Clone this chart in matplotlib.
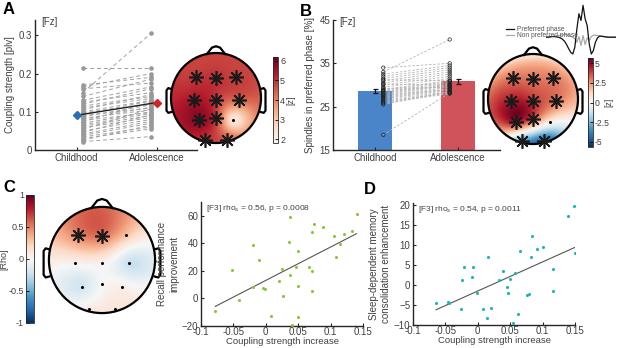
import numpy as np
import matplotlib
matplotlib.use('Agg')
import matplotlib.pyplot as plt
from matplotlib.colors import LinearSegmentedColormap
from matplotlib.patches import Circle

plt.rcParams['font.family'] = ['Liberation Sans', 'DejaVu Sans']
plt.rcParams['mathtext.fontset'] = 'custom'
plt.rcParams['mathtext.rm'] = 'Liberation Sans'
plt.rcParams['mathtext.it'] = 'Liberation Sans:italic'

W, H = 617, 348
TXT = '#404040'

# ---- panel A : coupling strength (Fz) ----
groups = ['Childhood', 'Adolescence']
cs_child = [0.215, 0.150, 0.170, 0.165, 0.160, 0.140, 0.130, 0.125, 0.120, 0.115,
            0.110, 0.105, 0.100, 0.097, 0.094, 0.090, 0.087, 0.083, 0.080, 0.077,
            0.074, 0.070, 0.066, 0.062, 0.058, 0.054, 0.050, 0.046, 0.042, 0.038,
            0.034, 0.030, 0.026, 0.022]
cs_adol = [0.215, 0.305, 0.190, 0.200, 0.175, 0.185, 0.165, 0.150, 0.160, 0.140,
           0.135, 0.145, 0.130, 0.120, 0.128, 0.110, 0.118, 0.105, 0.112, 0.098,
           0.125, 0.100, 0.095, 0.090, 0.085, 0.108, 0.080, 0.092, 0.075, 0.070,
           0.060, 0.055, 0.065, 0.035]

# ---- panel B : spindles in preferred phase (Fz) ----
pp_child = [34, 33, 32.5, 32, 31.5, 31, 30.5, 30, 29.5, 29, 28.8, 28.5, 28.2, 28,
            27.8, 27.5, 27.2, 27, 26.8, 26.5, 26.2, 26, 25.8, 25.5, 29.2, 30.2,
            31.2, 27.6, 28.6, 18.5]
pp_adol = [35, 40.5, 34.5, 34, 33.5, 33, 32.5, 32, 31.5, 31, 30.8, 30.5, 30.2, 30,
           29.8, 29.5, 29.2, 29, 28.8, 28.5, 28.3, 28.2, 28, 28.5, 29.5, 30, 31,
           29, 29.8, 28.2]

# spindle waveform inset
wave_pref = [0, 0, 0.01, 0.02, 0.02, 0.01, 0, -0.02, -0.06, -0.12, -0.22, -0.34,
             -0.45, -0.5, -0.3, 0.25, 0.7, 0.5, 0.95, 0.55, 0.35, -0.2, -0.5, -0.4,
             -0.15, -0.02, 0.03, 0.03, 0.02, 0.01, 0, 0, 0, 0, 0]
wave_nonpref = [0, 0, 0.01, 0.02, 0.03, 0.04, 0.05, 0.06, 0.07, 0.08, 0.08, 0.06,
                0.03, 0.0, -0.05, -0.15, 0.02, -0.25, 0.05, -0.22, -0.02, -0.1,
                0.02, 0.06, 0.06, 0.05, 0.04, 0.03, 0.02, 0.01, 0.01, 0, 0, 0, 0]

# ---- topographies (F3 Fz F4 C3 Cz C4 P3 Pz P4 O1 O2) ----
elec_x = [-0.45, 0.0, 0.45, -0.5, 0.0, 0.5, -0.38, 0.0, 0.38, -0.25, 0.25]
elec_y = [0.47, 0.45, 0.47, -0.05, -0.05, -0.05, -0.5, -0.45, -0.5, -0.93, -0.93]
topo_a = [4.9, 5.0, 4.8, 5.4, 4.9, 4.4, 5.8, 4.9, 2.3, 5.0, 4.5]
sig_a = [1, 1, 1, 1, 1, 1, 1, 1, 0, 1, 1]
topo_b = [3.0, 3.0, 2.8, 4.6, 4.0, 3.0, 4.9, 3.5, 0.5, -3.0, -4.6]
sig_b = [1, 1, 1, 1, 1, 1, 1, 1, 0, 1, 1]
topo_c = [0.5, 0.55, 0.3, 0.05, 0.05, -0.22, -0.18, 0.0, 0.05, 0.08, 0.12]
sig_c = [1, 1, 0, 0, 0, 0, 0, 0, 0, 0, 0]

# ---- panel C / D : correlations ----
c_x = [-0.078, -0.052, -0.042, -0.020, -0.019, -0.0105, -0.005, -0.0008, 0.008,
       0.021, 0.025, 0.0265, 0.036, 0.037, 0.037, 0.040, 0.046, 0.049, 0.049,
       0.049, 0.067, 0.072, 0.071, 0.072, 0.075, 0.088, 0.105, 0.12, 0.133,
       0.140, 0.115, 0.109]
c_y = [-8.9, 20.7, -1.3, 38.7, 8.6, 27.8, 7.4, 7.2, -12.5, 12.5, 21.2, 2.0, 40.9,
       59.3, 16.9, -19, 22.7, 34.5, 8.9, -13.2, 22.7, 20.0, 5.2, 48.1, 54.2, 52.2,
       45.5, 46.9, 49.1, 61.2, 39.6, 30.4]
d_x = [-0.0645, -0.0455, -0.044, -0.0213, -0.024, -0.026, -0.0079, -0.0085,
       -0.0008, 0.0085, 0.0147, 0.0157, 0.0209, 0.0332, 0.0394, 0.0446, 0.0461,
       0.0497, 0.0548, 0.0579, 0.0616, 0.0656, 0.0755, 0.0795, 0.0826, 0.0832,
       0.0909, 0.101, 0.1156, 0.116, 0.1387, 0.149, 0.15]
d_y = [-4.6, -4.2, -4.6, 4.4, 1.25, -6.0, 4.6, 1.9, -1.9, -6.0, -8.2, 7.1, -5.7,
       1.25, 3.6, -0.5, -2.1, 1.4, -9.6, 2.9, -7.3, 8.4, -2.5, -2.3, 6.9, 12.25,
       8.9, 9.4, 4.0, -1.6, 17.25, 19.8, 8.0]


def px_axes(fig, left, top, width, height):
    return fig.add_axes([left / W, 1 - (top + height) / H, width / W, height / H])


def style_axes(ax):
    for s in ['top', 'right']:
        ax.spines[s].set_visible(False)
    for s in ['left', 'bottom']:
        ax.spines[s].set_color('#262626')
        ax.spines[s].set_linewidth(1.0)
    ax.tick_params(direction='in', length=2.5, width=0.8, labelsize=7,
                   colors='#262626', labelcolor=TXT, pad=2)


def green(r):
    with np.errstate(divide='ignore', invalid='ignore'):
        g = r ** 2 * (np.log(r) - 1)
    return np.where(r > 0, g, 0.0)


def biharm(px, py, pv, qx, qy):
    G = green(np.hypot(px[:, None] - px[None, :], py[:, None] - py[None, :]))
    w = np.linalg.solve(G, pv)
    return green(np.hypot(qx[..., None] - px, qy[..., None] - py)) @ w


def draw_topo(ax, vals, sig, cmap, vmin, vmax, mix):
    ex = np.array(elec_x)
    ey = np.array(elec_y)
    v = np.array(vals, float)
    # ring of helper points just outside the scalp keeps the edges stable
    ang = np.linspace(0, 2 * np.pi, 28, endpoint=False)
    rx, ry = 1.08 * np.cos(ang), 1.08 * np.sin(ang)
    d = np.hypot(rx[:, None] - ex, ry[:, None] - ey)
    idw = (v / d ** 3).sum(1) / (1 / d ** 3).sum(1)
    span = v.max() - v.min()
    ext = np.clip(biharm(ex, ey, v, rx, ry), v.min() - 0.35 * span, v.max() + 0.35 * span)
    rv = mix * ext + (1 - mix) * idw
    g = np.linspace(-1, 1, 241)
    X, Y = np.meshgrid(g, g)
    Z = biharm(np.r_[ex, rx], np.r_[ey, ry], np.r_[v, rv], X, Y)
    Z = np.ma.masked_where(X ** 2 + Y ** 2 > 1.02, Z)
    im = ax.imshow(Z, extent=(-1, 1, -1, 1), origin='lower', cmap=cmap,
                   vmin=vmin, vmax=vmax, interpolation='bilinear')
    im.set_clip_path(Circle((0, 0), 1, transform=ax.transData))
    lw = 1.6
    ax.add_patch(Circle((0, 0), 1, fill=False, lw=lw, color='k'))
    ax.plot([-0.2, -0.09, 0, 0.09, 0.2], [0.98, 1.12, 1.15, 1.12, 0.98], color='k', lw=lw)
    for sgn in (-1, 1):
        ax.plot([sgn * 0.99, sgn * 1.06, sgn * 1.1, sgn * 1.1, sgn * 1.06, sgn * 0.99],
                [0.2, 0.22, 0.17, -0.28, -0.33, -0.31], color='k', lw=lw,
                solid_joinstyle='round')
    for x, y, s in zip(elec_x, elec_y, sig):
        if s:
            ax.plot(x, y, marker=(8, 2, 0), ms=10.5, mew=1.2, color='#1a1a1a')
        else:
            ax.plot(x, y, marker='o', ms=1.2, color='k')
    ax.set_xlim(-1.3, 1.3)
    ax.set_ylim(-1.3, 1.3)
    ax.set_aspect('equal')
    ax.axis('off')
    return im


def style_cbar(cb, side='right'):
    cb.outline.set_linewidth(0.6)
    cb.outline.set_edgecolor('#262626')
    cb.ax.tick_params(direction='in', length=2, width=0.6, labelsize=6.5,
                      labelcolor=TXT, pad=1.5)
    if side == 'left':
        cb.ax.yaxis.set_ticks_position('left')
        cb.ax.yaxis.set_label_position('left')


rdbu = plt.cm.RdBu_r
reds = LinearSegmentedColormap.from_list('half', rdbu(np.linspace(0.5, 1.0, 128)))

fig = plt.figure(figsize=(W / 100, H / 100), dpi=100)

# ================= A =================
axA = px_axes(fig, 35, 20, 162, 130)
style_axes(axA)
n = len(cs_child)
for c, a in zip(cs_child, cs_adol):
    axA.plot([1.075, 1.925], [c, a], ls='--', color='#a0a0a0', lw=0.7, dashes=(4, 3))
axA.scatter(np.full(n, 1.075), cs_child, s=11, color='#999999', zorder=3, lw=0)
axA.scatter(np.full(n, 1.925), cs_adol, s=11, color='#999999', zorder=3, lw=0)
m_c, m_a = np.mean(cs_child), np.mean(cs_adol)
e_c = np.std(cs_child, ddof=1) / np.sqrt(n)
e_a = np.std(cs_adol, ddof=1) / np.sqrt(n)
axA.plot([1, 2], [m_c, m_a], color='#222222', lw=1.0, zorder=4)
axA.errorbar(1, m_c, yerr=e_c * 0.5, fmt='D', ms=4.5, color='#2a6ebb', ecolor='#2a6ebb',
             elinewidth=1, capsize=0, zorder=5)
axA.errorbar(2, m_a, yerr=e_a * 0.7, fmt='D', ms=4.5, color='#d2232a', ecolor='#d2232a',
             elinewidth=1, capsize=0, zorder=5)
axA.set_xlim(0.48, 2.5)
axA.set_ylim(0, 0.34)
axA.set_xticks([1, 2])
axA.set_xticklabels(groups)
axA.set_yticks([0, 0.1, 0.2, 0.3])
axA.set_yticklabels(['0', '0.1', '0.2', '0.3'])
axA.set_ylabel('Coupling strength [plv]', fontsize=7, color=TXT, labelpad=3)
axA.text(0.04, 1.02, '[Fz]', transform=axA.transAxes, fontsize=7, color=TXT, va='top')

topA = px_axes(fig, 216 - 58.5, 98 - 58.5, 117, 117)
imA = draw_topo(topA, topo_a, sig_a, reds, 1.8, 6.2, mix=0.0)
caxA = px_axes(fig, 273, 57, 5, 86)
cbA = fig.colorbar(imA, cax=caxA)
cbA.set_ticks([2, 3, 4, 5, 6])
style_cbar(cbA)
cbA.set_label('[z]', fontsize=6.5, color=TXT, labelpad=1)

# ================= B =================
axB = px_axes(fig, 333, 20, 167, 130)
style_axes(axB)
nb = len(pp_child)
mb_c, mb_a = np.mean(pp_child), np.mean(pp_adol)
eb_c = np.std(pp_child, ddof=1) / np.sqrt(nb)
eb_a = np.std(pp_adol, ddof=1) / np.sqrt(nb)
axB.bar([1, 2], [mb_c, mb_a], width=0.41, color=['#4a85c9', '#d0525b'], zorder=1)
for c, a in zip(pp_child, pp_adol):
    axB.plot([1.1, 1.9], [c, a], ls='--', color='#b4b4b4', lw=0.6, dashes=(3, 2), zorder=2)
axB.scatter(np.full(nb, 1.1), pp_child, s=6, facecolor='none', edgecolor='#222222',
            lw=0.5, zorder=3)
axB.scatter(np.full(nb, 1.9), pp_adol, s=6, facecolor='none', edgecolor='#222222',
            lw=0.5, zorder=3)
axB.errorbar([1, 2], [mb_c, mb_a], yerr=[eb_c, eb_a], fmt='none', ecolor='#111111',
             elinewidth=0.9, capsize=1.8, capthick=0.9, zorder=4)
axB.set_xlim(0.494, 2.506)
axB.set_ylim(15, 45)
axB.set_xticks([1, 2])
axB.set_xticklabels(groups)
axB.set_yticks([15, 25, 35, 45])
axB.set_ylabel('Spindles in preferred phase [%]', fontsize=7, color=TXT, labelpad=3)
axB.text(0.04, 1.02, '[Fz]', transform=axB.transAxes, fontsize=7, color=TXT, va='top')

topB = px_axes(fig, 533 - 58.5, 99 - 58.5, 117, 117)
imB = draw_topo(topB, topo_b, sig_b, rdbu, -5.7, 5.7, mix=0.7)
caxB = px_axes(fig, 588, 58, 5, 89)
cbB = fig.colorbar(imB, cax=caxB)
cbB.set_ticks([-5, -2.5, 0, 2.5, 5])
cbB.set_ticklabels(['-5', '-2.5', '0', '2.5', '5'])
style_cbar(cbB)
cbB.ax.tick_params(labelsize=6.2, pad=1)
fig.text(609 / W, 1 - 102 / H, '[z]', rotation=90, fontsize=6.2, color=TXT,
         ha='center', va='center')

axW = px_axes(fig, 546, 2, 70, 54)
t = np.arange(len(wave_pref))
lp, = axW.plot(t, wave_nonpref, color='#a8a8a8', lw=0.9, label='Non preferred phase')
lb, = axW.plot(t, wave_pref, color='#111111', lw=0.9, label='Preferred phase')
axW.set_ylim(-0.56, 1.05)
axW.set_xlim(0, len(wave_pref) - 1)
axW.axis('off')
fig.legend(handles=[lb, lp], loc='upper left', bbox_to_anchor=(503 / W, 1 - 23 / H),
           frameon=False, fontsize=4.8, handlelength=1.2, handletextpad=0.4,
           labelspacing=-0.2, borderpad=0, labelcolor='#555555')

# ================= C =================
topC = px_axes(fig, 102 - 69, 260 - 69, 138, 138)
imC = draw_topo(topC, topo_c, sig_c, rdbu, -1, 1, mix=0.7)
caxC = px_axes(fig, 26, 195, 8, 128)
cbC = fig.colorbar(imC, cax=caxC)
cbC.set_ticks([-1, -0.5, 0, 0.5, 1])
cbC.set_ticklabels(['-1', '-0.5', '0', '0.5', '1'])
style_cbar(cbC, side='left')
cbC.set_label('[Rho]', fontsize=6.5, color=TXT, labelpad=0)

axC = px_axes(fig, 201, 202, 162, 124)
style_axes(axC)
axC.scatter(c_x, c_y, s=5, color='#8cc63e', lw=0, zorder=3)
k, b = np.polyfit(c_x, c_y, 1)
xl = np.array([min(c_x), max(c_x)])
axC.plot(xl, k * xl + b, color='#555555', lw=0.8)
axC.set_xlim(-0.1, 0.15)
axC.set_ylim(-20, 70)
axC.set_xticks([-0.1, -0.05, 0, 0.05, 0.1, 0.15])
axC.set_xticklabels(['-0.1', '-0.05', '0', '0.05', '0.1', '0.15'])
axC.set_yticks([-20, 0, 20, 40, 60])
axC.tick_params(axis='x', pad=1)
axC.set_xlabel('Coupling strength increase', fontsize=6.8, color=TXT, labelpad=-0.5)
axC.set_ylabel('Recall performance\nimprovement', fontsize=7, color=TXT, labelpad=2)
axC.text(0.03, 0.995, r'[F3] rho$_\mathrm{s}$ = 0.56, p = 0.0008', transform=axC.transAxes,
         fontsize=6, color=TXT, va='top')

# ================= D =================
axD = px_axes(fig, 413, 203, 162, 122)
style_axes(axD)
axD.scatter(d_x, d_y, s=5, color='#1fb5ad', lw=0, zorder=3)
k, b = np.polyfit(d_x, d_y, 1)
xl = np.array([min(d_x), max(d_x)])
axD.plot(xl, k * xl + b, color='#555555', lw=0.8)
axD.set_xlim(-0.1, 0.15)
axD.set_ylim(-10, 20.5)
axD.set_xticks([-0.1, -0.05, 0, 0.05, 0.1, 0.15])
axD.set_xticklabels(['-0.1', '-0.05', '0', '0.05', '0.1', '0.15'])
axD.set_yticks([-10, -5, 0, 5, 10, 15, 20])
axD.tick_params(axis='x', pad=1)
axD.set_xlabel('Coupling strength increase', fontsize=6.8, color=TXT, labelpad=-0.5)
axD.set_ylabel('Sleep-dependent memory\nconsolidation enhancement', fontsize=7,
               color=TXT, labelpad=2)
axD.text(0.03, 0.995, r'[F3] rho$_\mathrm{s}$ = 0.54, p = 0.0011', transform=axD.transAxes,
         fontsize=6, color=TXT, va='top')

# panel letters
for lab, x, y in [('A', 3, 2), ('B', 300, 4), ('C', 3, 180), ('D', 364, 182)]:
    fig.text(x / W, 1 - y / H, lab, fontsize=12, fontweight='bold', va='top', ha='left')

fig.savefig('out.png', dpi=100)
